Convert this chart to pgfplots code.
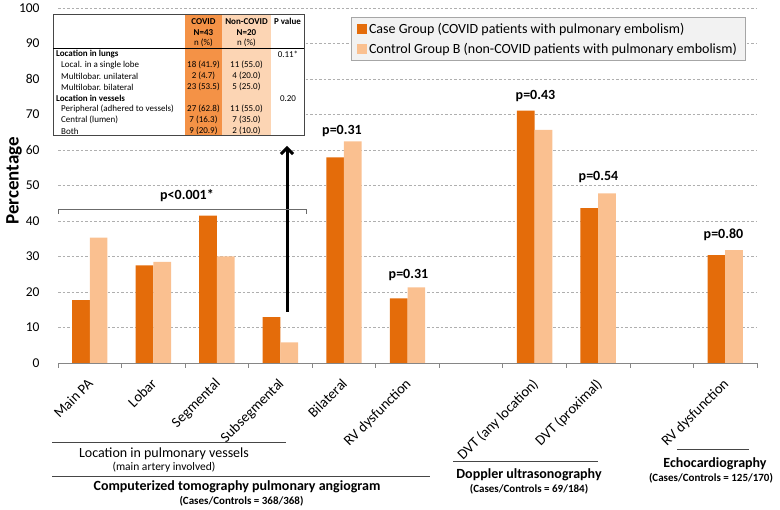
\documentclass[border=0pt]{standalone}
\usepackage{fontspec}
\setmainfont{Carlito}
\usepackage{pgfplots}
\pgfplotsset{compat=1.18}
\usetikzlibrary{arrows.meta}
\definecolor{casec}{RGB}{228,108,10}
\definecolor{ctrlc}{RGB}{250,192,144}
\definecolor{covidcol}{RGB}{244,146,70}
\definecolor{noncol}{RGB}{252,213,180}
\definecolor{axisgray}{RGB}{134,134,134}
\definecolor{gridgray}{RGB}{175,175,175}
\definecolor{darkline}{RGB}{70,70,70}
\newcommand{\fsz}[2]{\fontsize{#1bp}{#2bp}\selectfont}
\begin{document}
\begin{tikzpicture}
\useasboundingbox (0,0) rectangle (780bp,510bp);
\begin{axis}[
  at={(58bp,147bp)}, anchor=south west,
  scale only axis, width=699bp, height=355bp,
  xmin=-0.5, xmax=10.5, ymin=0, ymax=100,
  ybar=0pt, bar width=17.7bp,
  axis lines*=left,
  y axis line style={draw=none},
  x axis line style={draw=axisgray, line width=0.8bp},
  ytick={0,10,...,100},
  ytick style={draw=none},
  ymajorgrids,
  major grid style={draw=gridgray, dash pattern=on 2.5bp off 2bp, line width=0.6bp},
  xtick={0,...,10},
  xticklabels={{Main PA},{Lobar},{Segmental},{Subsegmental},{Bilateral},{RV dysfunction},{},{DVT (any location)},{DVT (proximal)},{},{RV dysfunction}},
  major x tick style={draw=none},
  minor xtick={-0.5,0.5,...,10.5},
  minor x tick style={draw=axisgray, line width=0.8bp},
  minor tick length=5bp,
  tick align=outside,
  xticklabel style={font=\fsz{14.5}{16}, xshift=-3bp, yshift=-10bp, rotate=45, anchor=north east, inner sep=0pt},
  yticklabel style={font=\fsz{13.5}{15}, anchor=east, inner sep=0pt, xshift=-14bp},
  /pgf/number format/assume math mode=true,
  legend style={at={(0.983,0.974)}, anchor=north east, draw=gray!70, fill=black!5, font=\fsz{14}{16}, inner xsep=6bp, inner ysep=3.5bp, row sep=4.5bp, cells={anchor=west}},
  legend image code/.code={\fill[#1] (0bp,-5bp) rectangle (10bp,5bp);},
]
\addplot[fill=casec, draw=none] coordinates {(0,17.7) (1,27.5) (2,41.5) (3,12.9) (4,57.9) (5,18.2) (7,71.1) (8,43.6) (10,30.4)};
\addlegendentry{Case Group (COVID patients with pulmonary embolism)}
\addplot[fill=ctrlc, draw=none] coordinates {(0,35.3) (1,28.5) (2,30.0) (3,5.8) (4,62.4) (5,21.3) (7,65.7) (8,47.8) (10,31.8)};
\addlegendentry{Control Group B (non-COVID patients with pulmonary embolism)}
\end{axis}
\begin{scope}[x=1bp,y=-1bp,yshift=510bp]
% y label
\node[rotate=90, font=\bfseries\fsz{19}{21}] at (14,181) {Percentage};
% inset table
\fill[white] (53,15) rectangle (304,136);
\fill[covidcol] (185,15) rectangle (222,136);
\fill[noncol] (222,15) rectangle (271,136);
\draw[darkline, line width=1bp] (53,15) rectangle (304,136);
\draw[black, line width=0.8bp] (53,48.3) -- (304,48.3);
\begin{scope}[every node/.style={font=\fsz{9}{10}, inner sep=0pt}]
\node[font=\bfseries\fsz{9}{10}] at (203.5,21.7) {COVID};
\node[font=\bfseries\fsz{9}{10}] at (203.5,32.7) {N=43};
\node at (203.5,43) {n (\%)};
\node[font=\bfseries\fsz{9}{10}] at (246.5,21.7) {Non-COVID};
\node[font=\bfseries\fsz{9}{10}] at (246.5,32.7) {N=20};
\node at (246.5,43) {n (\%)};
\node[font=\bfseries\fsz{9}{10}] at (287.5,21.7) {P value};
\node[anchor=west, font=\bfseries\fsz{9}{10}] at (56,54.3) {Location in lungs};
\node[anchor=west] at (61,65.3) {Local. in a single lobe};
\node[anchor=west] at (61,76.3) {Multilobar. unilateral};
\node[anchor=west] at (61,87.3) {Multilobar. bilateral};
\node[anchor=west, font=\bfseries\fsz{9}{10}] at (56,98.3) {Location in vessels};
\node[anchor=west] at (61,109.3) {Peripheral (adhered to vessels)};
\node[anchor=west] at (61,120.3) {Central (lumen)};
\node[anchor=west] at (61,131.3) {Both};
\node at (203.5,65.3) {18 (41.9)};
\node at (203.5,76.3) {2 (4.7)};
\node at (203.5,87.3) {23 (53.5)};
\node at (203.5,109.3) {27 (62.8)};
\node at (203.5,120.3) {7 (16.3)};
\node at (203.5,131.3) {9 (20.9)};
\node at (246.5,65.3) {11 (55.0)};
\node at (246.5,76.3) {4 (20.0)};
\node at (246.5,87.3) {5 (25.0)};
\node at (246.5,109.3) {11 (55.0)};
\node at (246.5,120.3) {7 (35.0)};
\node at (246.5,131.3) {2 (10.0)};
\node at (288,54.3) {0.11*};
\node at (288,98.3) {0.20};
\end{scope}
% arrow
\draw[black, line width=3bp, -{Straight Barb[length=6bp, width=12bp, line width=3bp]}] (287,312) -- (287,146);
% bracket
\draw[darkline!80, line width=0.9bp] (58,214) -- (58,209) -- (306,209) -- (306,214);
\node[font=\bfseries\fsz{14}{16}] at (187,196) {p<0.001*};
% p values
\node[font=\bfseries\fsz{14}{16}] at (342,131) {p=0.31};
\node[font=\bfseries\fsz{14}{16}] at (408.5,275) {p=0.31};
\node[font=\bfseries\fsz{14}{16}] at (535.5,96) {p=0.43};
\node[font=\bfseries\fsz{14}{16}] at (598.5,177) {p=0.54};
\node[font=\bfseries\fsz{14}{16}] at (723.5,235) {p=0.80};
% group labels
\draw[darkline, line width=1bp] (52,443) -- (286,443);
\node[font=\fsz{14}{16}] at (164,454) {Location in pulmonary vessels};
\node[font=\fsz{11.5}{13}] at (164,467.5) {(main artery involved)};
\draw[darkline, line width=1bp] (52,476.5) -- (430,476.5);
\node[font=\bfseries\fsz{14}{16}] at (237,487) {Computerized tomography pulmonary angiogram};
\node[font=\bfseries\fsz{11}{13}] at (241.5,501.5) {(Cases/Controls = 368/368)};
\draw[darkline, line width=1bp] (453,461.7) -- (598,461.7);
\node[font=\bfseries\fsz{14}{16}] at (529,475) {Doppler ultrasonography};
\node[font=\bfseries\fsz{11}{13}] at (529,489.5) {(Cases/Controls = 69/184)};
\draw[darkline, line width=1bp] (677,450) -- (749,450);
\node[font=\bfseries\fsz{14}{16}] at (715,463.5) {Echocardiography};
\node[font=\bfseries\fsz{11}{13}] at (711,478.5) {(Cases/Controls = 125/170)};
\end{scope}
\end{tikzpicture}
\end{document}
